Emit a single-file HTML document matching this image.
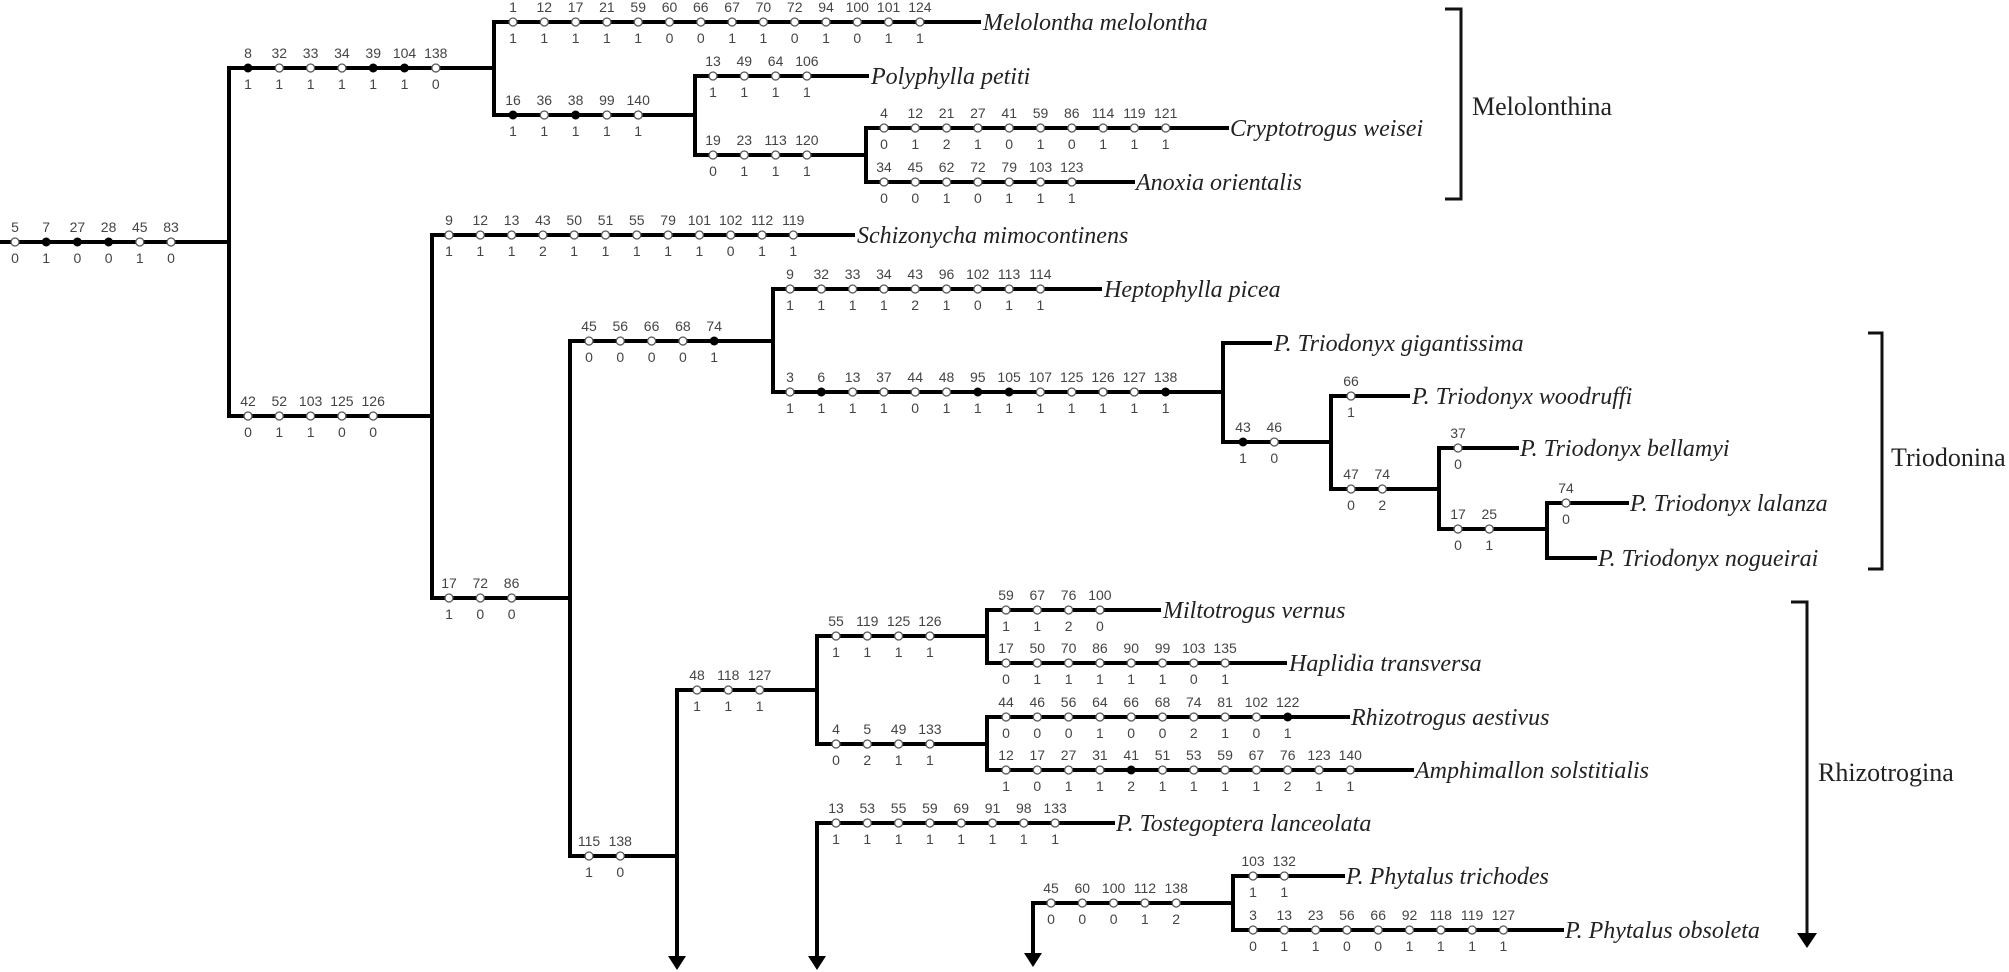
<!DOCTYPE html>
<html><head><meta charset="utf-8"><style>
html,body{margin:0;padding:0;background:#fff;}
svg{display:block;}
.n{font-family:"Liberation Sans",sans-serif;font-size:14px;fill:#444;text-anchor:middle;}
.sp{font-family:"Liberation Serif",serif;font-style:italic;font-size:24px;fill:#222;}
.cl{font-family:"Liberation Serif",serif;font-size:26px;fill:#222;}
.l{stroke:#000;stroke-width:4;fill:none;stroke-linecap:square;}
.b{stroke:#111;stroke-width:3;fill:none;}
.o{fill:#fff;stroke:#555;stroke-width:1.3;}
.f{fill:#000;stroke:#000;stroke-width:1;}
</style></head><body>
<svg width="2009" height="972" viewBox="0 0 2009 972" xmlns="http://www.w3.org/2000/svg">
<!-- lines -->
<path class="l" d="M2 242H229 M229 68V416 M229 68H494 M494 22V115 M494 22H979 M494 115H695 M695 76V155 M695 76H867 M695 155H866 M866 128V182 M866 128H1227 M866 182H1133
M229 416H432 M432 235V598 M432 235H853 M432 598H570 M570 341V856 M570 341H773 M773 289V392 M773 289H1100 M773 392H1223 M1223 343V442 M1223 343H1270 M1223 442H1331 M1331 396V489 M1331 396H1408 M1331 489H1439 M1439 448V529 M1439 448H1517 M1439 529H1547 M1547 503V558 M1547 503H1627 M1547 558H1595
M570 856H677 M677 690V958 M677 690H817 M817 636V744 M817 636H987 M987 610V663 M987 610H1159 M987 663H1285 M817 744H987 M987 717V770 M987 717H1348 M987 770H1412
M817 823V958 M817 823H1113 M1033 903V955 M1033 903H1233 M1233 876V930 M1233 876H1343 M1233 930H1562"/>
<polygon points="668,956 686,956 677,970" fill="#000"/>
<polygon points="808,956 826,956 817,970" fill="#000"/>
<polygon points="1024,953 1042,953 1033,967" fill="#000"/>
<!-- brackets -->
<path class="b" d="M1445 9H1461V199H1445 M1868 333H1882V569H1868 M1791 602H1807V936"/>
<polygon points="1797,933 1817,933 1807,948" fill="#000"/>
<text class="cl" x="1472" y="115">Melolonthina</text>
<text class="cl" x="1891" y="466">Triodonina</text>
<text class="cl" x="1818" y="781">Rhizotrogina</text>
<!-- species -->
<text class="sp" x="983" y="30">Melolontha melolontha</text>
<text class="sp" x="871" y="84">Polyphylla petiti</text>
<text class="sp" x="1230" y="136">Cryptotrogus weisei</text>
<text class="sp" x="1136" y="190">Anoxia orientalis</text>
<text class="sp" x="857" y="243">Schizonycha mimocontinens</text>
<text class="sp" x="1104" y="297">Heptophylla picea</text>
<text class="sp" x="1274" y="351">P. Triodonyx gigantissima</text>
<text class="sp" x="1412" y="404">P. Triodonyx woodruffi</text>
<text class="sp" x="1520" y="456">P. Triodonyx bellamyi</text>
<text class="sp" x="1630" y="511">P. Triodonyx lalanza</text>
<text class="sp" x="1598" y="566">P. Triodonyx nogueirai</text>
<text class="sp" x="1163" y="618">Miltotrogus vernus</text>
<text class="sp" x="1289" y="671">Haplidia transversa</text>
<text class="sp" x="1351" y="725">Rhizotrogus aestivus</text>
<text class="sp" x="1415" y="778">Amphimallon solstitialis</text>
<text class="sp" x="1116" y="831">P. Tostegoptera lanceolata</text>
<text class="sp" x="1346" y="884">P. Phytalus trichodes</text>
<text class="sp" x="1565" y="938">P. Phytalus obsoleta</text>

<!-- Root y=242 -->
<g>
<circle class="o" cx="15" cy="242" r="4"/><circle class="f" cx="46.2" cy="242" r="4"/><circle class="f" cx="77.4" cy="242" r="4"/><circle class="f" cx="108.6" cy="242" r="4"/><circle class="o" cx="139.8" cy="242" r="4"/><circle class="o" cx="171" cy="242" r="4"/>
<text class="n" x="15" y="232">5</text><text class="n" x="46.2" y="232">7</text><text class="n" x="77.4" y="232">27</text><text class="n" x="108.6" y="232">28</text><text class="n" x="139.8" y="232">45</text><text class="n" x="171" y="232">83</text>
<text class="n" x="15" y="263">0</text><text class="n" x="46.2" y="263">1</text><text class="n" x="77.4" y="263">0</text><text class="n" x="108.6" y="263">0</text><text class="n" x="139.8" y="263">1</text><text class="n" x="171" y="263">0</text>
</g>
<!-- A y=68 -->
<g>
<circle class="f" cx="248" cy="68" r="4"/><circle class="o" cx="279.3" cy="68" r="4"/><circle class="o" cx="310.6" cy="68" r="4"/><circle class="o" cx="341.9" cy="68" r="4"/><circle class="f" cx="373.2" cy="68" r="4"/><circle class="f" cx="404.5" cy="68" r="4"/><circle class="o" cx="435.8" cy="68" r="4"/>
<text class="n" x="248" y="58">8</text><text class="n" x="279.3" y="58">32</text><text class="n" x="310.6" y="58">33</text><text class="n" x="341.9" y="58">34</text><text class="n" x="373.2" y="58">39</text><text class="n" x="404.5" y="58">104</text><text class="n" x="435.8" y="58">138</text>
<text class="n" x="248" y="89">1</text><text class="n" x="279.3" y="89">1</text><text class="n" x="310.6" y="89">1</text><text class="n" x="341.9" y="89">1</text><text class="n" x="373.2" y="89">1</text><text class="n" x="404.5" y="89">1</text><text class="n" x="435.8" y="89">0</text>
</g>
<!-- Melolontha y=22 -->
<g>
<circle class="o" cx="513" cy="22" r="4"/><circle class="o" cx="544.3" cy="22" r="4"/><circle class="o" cx="575.6" cy="22" r="4"/><circle class="o" cx="606.9" cy="22" r="4"/><circle class="o" cx="638.2" cy="22" r="4"/><circle class="o" cx="669.5" cy="22" r="4"/><circle class="o" cx="700.8" cy="22" r="4"/><circle class="o" cx="732.1" cy="22" r="4"/><circle class="o" cx="763.4" cy="22" r="4"/><circle class="o" cx="794.7" cy="22" r="4"/><circle class="o" cx="826" cy="22" r="4"/><circle class="o" cx="857.3" cy="22" r="4"/><circle class="o" cx="888.6" cy="22" r="4"/><circle class="o" cx="919.9" cy="22" r="4"/>
<text class="n" x="513" y="12">1</text><text class="n" x="544.3" y="12">12</text><text class="n" x="575.6" y="12">17</text><text class="n" x="606.9" y="12">21</text><text class="n" x="638.2" y="12">59</text><text class="n" x="669.5" y="12">60</text><text class="n" x="700.8" y="12">66</text><text class="n" x="732.1" y="12">67</text><text class="n" x="763.4" y="12">70</text><text class="n" x="794.7" y="12">72</text><text class="n" x="826" y="12">94</text><text class="n" x="857.3" y="12">100</text><text class="n" x="888.6" y="12">101</text><text class="n" x="919.9" y="12">124</text>
<text class="n" x="513" y="43">1</text><text class="n" x="544.3" y="43">1</text><text class="n" x="575.6" y="43">1</text><text class="n" x="606.9" y="43">1</text><text class="n" x="638.2" y="43">1</text><text class="n" x="669.5" y="43">0</text><text class="n" x="700.8" y="43">0</text><text class="n" x="732.1" y="43">1</text><text class="n" x="763.4" y="43">1</text><text class="n" x="794.7" y="43">0</text><text class="n" x="826" y="43">1</text><text class="n" x="857.3" y="43">0</text><text class="n" x="888.6" y="43">1</text><text class="n" x="919.9" y="43">1</text>
</g>
<!-- B y=115 -->
<g>
<circle class="f" cx="513" cy="115" r="4"/><circle class="o" cx="544.3" cy="115" r="4"/><circle class="f" cx="575.6" cy="115" r="4"/><circle class="o" cx="606.9" cy="115" r="4"/><circle class="o" cx="638.2" cy="115" r="4"/>
<text class="n" x="513" y="105">16</text><text class="n" x="544.3" y="105">36</text><text class="n" x="575.6" y="105">38</text><text class="n" x="606.9" y="105">99</text><text class="n" x="638.2" y="105">140</text>
<text class="n" x="513" y="136">1</text><text class="n" x="544.3" y="136">1</text><text class="n" x="575.6" y="136">1</text><text class="n" x="606.9" y="136">1</text><text class="n" x="638.2" y="136">1</text>
</g>
<!-- Polyphylla y=76 -->
<g>
<circle class="o" cx="713" cy="76" r="4"/><circle class="o" cx="744.3" cy="76" r="4"/><circle class="o" cx="775.6" cy="76" r="4"/><circle class="o" cx="806.9" cy="76" r="4"/>
<text class="n" x="713" y="66">13</text><text class="n" x="744.3" y="66">49</text><text class="n" x="775.6" y="66">64</text><text class="n" x="806.9" y="66">106</text>
<text class="n" x="713" y="97">1</text><text class="n" x="744.3" y="97">1</text><text class="n" x="775.6" y="97">1</text><text class="n" x="806.9" y="97">1</text>
</g>
<!-- C y=155 -->
<g>
<circle class="o" cx="713" cy="155" r="4"/><circle class="o" cx="744.3" cy="155" r="4"/><circle class="o" cx="775.6" cy="155" r="4"/><circle class="o" cx="806.9" cy="155" r="4"/>
<text class="n" x="713" y="145">19</text><text class="n" x="744.3" y="145">23</text><text class="n" x="775.6" y="145">113</text><text class="n" x="806.9" y="145">120</text>
<text class="n" x="713" y="176">0</text><text class="n" x="744.3" y="176">1</text><text class="n" x="775.6" y="176">1</text><text class="n" x="806.9" y="176">1</text>
</g>
<!-- Cryptotrogus y=128 -->
<g>
<circle class="o" cx="884" cy="128" r="4"/><circle class="o" cx="915.3" cy="128" r="4"/><circle class="o" cx="946.6" cy="128" r="4"/><circle class="o" cx="977.9" cy="128" r="4"/><circle class="o" cx="1009.2" cy="128" r="4"/><circle class="o" cx="1040.5" cy="128" r="4"/><circle class="o" cx="1071.8" cy="128" r="4"/><circle class="o" cx="1103.1" cy="128" r="4"/><circle class="o" cx="1134.4" cy="128" r="4"/><circle class="o" cx="1165.7" cy="128" r="4"/>
<text class="n" x="884" y="118">4</text><text class="n" x="915.3" y="118">12</text><text class="n" x="946.6" y="118">21</text><text class="n" x="977.9" y="118">27</text><text class="n" x="1009.2" y="118">41</text><text class="n" x="1040.5" y="118">59</text><text class="n" x="1071.8" y="118">86</text><text class="n" x="1103.1" y="118">114</text><text class="n" x="1134.4" y="118">119</text><text class="n" x="1165.7" y="118">121</text>
<text class="n" x="884" y="149">0</text><text class="n" x="915.3" y="149">1</text><text class="n" x="946.6" y="149">2</text><text class="n" x="977.9" y="149">1</text><text class="n" x="1009.2" y="149">0</text><text class="n" x="1040.5" y="149">1</text><text class="n" x="1071.8" y="149">0</text><text class="n" x="1103.1" y="149">1</text><text class="n" x="1134.4" y="149">1</text><text class="n" x="1165.7" y="149">1</text>
</g>
<!-- Anoxia y=182 -->
<g>
<circle class="o" cx="884" cy="182" r="4"/><circle class="o" cx="915.3" cy="182" r="4"/><circle class="o" cx="946.6" cy="182" r="4"/><circle class="o" cx="977.9" cy="182" r="4"/><circle class="o" cx="1009.2" cy="182" r="4"/><circle class="o" cx="1040.5" cy="182" r="4"/><circle class="o" cx="1071.8" cy="182" r="4"/>
<text class="n" x="884" y="172">34</text><text class="n" x="915.3" y="172">45</text><text class="n" x="946.6" y="172">62</text><text class="n" x="977.9" y="172">72</text><text class="n" x="1009.2" y="172">79</text><text class="n" x="1040.5" y="172">103</text><text class="n" x="1071.8" y="172">123</text>
<text class="n" x="884" y="203">0</text><text class="n" x="915.3" y="203">0</text><text class="n" x="946.6" y="203">1</text><text class="n" x="977.9" y="203">0</text><text class="n" x="1009.2" y="203">1</text><text class="n" x="1040.5" y="203">1</text><text class="n" x="1071.8" y="203">1</text>
</g>
<!-- D y=416 -->
<g>
<circle class="o" cx="248" cy="416" r="4"/><circle class="o" cx="279.3" cy="416" r="4"/><circle class="o" cx="310.6" cy="416" r="4"/><circle class="o" cx="341.9" cy="416" r="4"/><circle class="o" cx="373.2" cy="416" r="4"/>
<text class="n" x="248" y="406">42</text><text class="n" x="279.3" y="406">52</text><text class="n" x="310.6" y="406">103</text><text class="n" x="341.9" y="406">125</text><text class="n" x="373.2" y="406">126</text>
<text class="n" x="248" y="437">0</text><text class="n" x="279.3" y="437">1</text><text class="n" x="310.6" y="437">1</text><text class="n" x="341.9" y="437">0</text><text class="n" x="373.2" y="437">0</text>
</g>
<!-- Schizonycha y=235 -->
<g>
<circle class="o" cx="449" cy="235" r="4"/><circle class="o" cx="480.3" cy="235" r="4"/><circle class="o" cx="511.6" cy="235" r="4"/><circle class="o" cx="542.9" cy="235" r="4"/><circle class="o" cx="574.2" cy="235" r="4"/><circle class="o" cx="605.5" cy="235" r="4"/><circle class="o" cx="636.8" cy="235" r="4"/><circle class="o" cx="668.1" cy="235" r="4"/><circle class="o" cx="699.4" cy="235" r="4"/><circle class="o" cx="730.7" cy="235" r="4"/><circle class="o" cx="762" cy="235" r="4"/><circle class="o" cx="793.3" cy="235" r="4"/>
<text class="n" x="449" y="225">9</text><text class="n" x="480.3" y="225">12</text><text class="n" x="511.6" y="225">13</text><text class="n" x="542.9" y="225">43</text><text class="n" x="574.2" y="225">50</text><text class="n" x="605.5" y="225">51</text><text class="n" x="636.8" y="225">55</text><text class="n" x="668.1" y="225">79</text><text class="n" x="699.4" y="225">101</text><text class="n" x="730.7" y="225">102</text><text class="n" x="762" y="225">112</text><text class="n" x="793.3" y="225">119</text>
<text class="n" x="449" y="256">1</text><text class="n" x="480.3" y="256">1</text><text class="n" x="511.6" y="256">1</text><text class="n" x="542.9" y="256">2</text><text class="n" x="574.2" y="256">1</text><text class="n" x="605.5" y="256">1</text><text class="n" x="636.8" y="256">1</text><text class="n" x="668.1" y="256">1</text><text class="n" x="699.4" y="256">1</text><text class="n" x="730.7" y="256">0</text><text class="n" x="762" y="256">1</text><text class="n" x="793.3" y="256">1</text>
</g>
<!-- E y=598 -->
<g>
<circle class="o" cx="449" cy="598" r="4"/><circle class="o" cx="480.3" cy="598" r="4"/><circle class="o" cx="511.6" cy="598" r="4"/>
<text class="n" x="449" y="588">17</text><text class="n" x="480.3" y="588">72</text><text class="n" x="511.6" y="588">86</text>
<text class="n" x="449" y="619">1</text><text class="n" x="480.3" y="619">0</text><text class="n" x="511.6" y="619">0</text>
</g>
<!-- F y=341 -->
<g>
<circle class="o" cx="589" cy="341" r="4"/><circle class="o" cx="620.3" cy="341" r="4"/><circle class="o" cx="651.6" cy="341" r="4"/><circle class="o" cx="682.9" cy="341" r="4"/><circle class="f" cx="714.2" cy="341" r="4"/>
<text class="n" x="589" y="331">45</text><text class="n" x="620.3" y="331">56</text><text class="n" x="651.6" y="331">66</text><text class="n" x="682.9" y="331">68</text><text class="n" x="714.2" y="331">74</text>
<text class="n" x="589" y="362">0</text><text class="n" x="620.3" y="362">0</text><text class="n" x="651.6" y="362">0</text><text class="n" x="682.9" y="362">0</text><text class="n" x="714.2" y="362">1</text>
</g>
<!-- Heptophylla y=289 -->
<g>
<circle class="o" cx="790" cy="289" r="4"/><circle class="o" cx="821.3" cy="289" r="4"/><circle class="o" cx="852.6" cy="289" r="4"/><circle class="o" cx="883.9" cy="289" r="4"/><circle class="o" cx="915.2" cy="289" r="4"/><circle class="o" cx="946.5" cy="289" r="4"/><circle class="o" cx="977.8" cy="289" r="4"/><circle class="o" cx="1009.1" cy="289" r="4"/><circle class="o" cx="1040.4" cy="289" r="4"/>
<text class="n" x="790" y="279">9</text><text class="n" x="821.3" y="279">32</text><text class="n" x="852.6" y="279">33</text><text class="n" x="883.9" y="279">34</text><text class="n" x="915.2" y="279">43</text><text class="n" x="946.5" y="279">96</text><text class="n" x="977.8" y="279">102</text><text class="n" x="1009.1" y="279">113</text><text class="n" x="1040.4" y="279">114</text>
<text class="n" x="790" y="310">1</text><text class="n" x="821.3" y="310">1</text><text class="n" x="852.6" y="310">1</text><text class="n" x="883.9" y="310">1</text><text class="n" x="915.2" y="310">2</text><text class="n" x="946.5" y="310">1</text><text class="n" x="977.8" y="310">0</text><text class="n" x="1009.1" y="310">1</text><text class="n" x="1040.4" y="310">1</text>
</g>
<!-- G y=392 -->
<g>
<circle class="o" cx="790" cy="392" r="4"/><circle class="f" cx="821.3" cy="392" r="4"/><circle class="o" cx="852.6" cy="392" r="4"/><circle class="o" cx="883.9" cy="392" r="4"/><circle class="o" cx="915.2" cy="392" r="4"/><circle class="o" cx="946.5" cy="392" r="4"/><circle class="f" cx="977.8" cy="392" r="4"/><circle class="f" cx="1009.1" cy="392" r="4"/><circle class="o" cx="1040.4" cy="392" r="4"/><circle class="o" cx="1071.7" cy="392" r="4"/><circle class="o" cx="1103" cy="392" r="4"/><circle class="o" cx="1134.3" cy="392" r="4"/><circle class="f" cx="1165.6" cy="392" r="4"/>
<text class="n" x="790" y="382">3</text><text class="n" x="821.3" y="382">6</text><text class="n" x="852.6" y="382">13</text><text class="n" x="883.9" y="382">37</text><text class="n" x="915.2" y="382">44</text><text class="n" x="946.5" y="382">48</text><text class="n" x="977.8" y="382">95</text><text class="n" x="1009.1" y="382">105</text><text class="n" x="1040.4" y="382">107</text><text class="n" x="1071.7" y="382">125</text><text class="n" x="1103" y="382">126</text><text class="n" x="1134.3" y="382">127</text><text class="n" x="1165.6" y="382">138</text>
<text class="n" x="790" y="413">1</text><text class="n" x="821.3" y="413">1</text><text class="n" x="852.6" y="413">1</text><text class="n" x="883.9" y="413">1</text><text class="n" x="915.2" y="413">0</text><text class="n" x="946.5" y="413">1</text><text class="n" x="977.8" y="413">1</text><text class="n" x="1009.1" y="413">1</text><text class="n" x="1040.4" y="413">1</text><text class="n" x="1071.7" y="413">1</text><text class="n" x="1103" y="413">1</text><text class="n" x="1134.3" y="413">1</text><text class="n" x="1165.6" y="413">1</text>
</g>
<!-- H y=442 -->
<g>
<circle class="f" cx="1243" cy="442" r="4"/><circle class="o" cx="1274.3" cy="442" r="4"/>
<text class="n" x="1243" y="432">43</text><text class="n" x="1274.3" y="432">46</text>
<text class="n" x="1243" y="463">1</text><text class="n" x="1274.3" y="463">0</text>
</g>
<!-- woodruffi y=396 -->
<g>
<circle class="o" cx="1351" cy="396" r="4"/>
<text class="n" x="1351" y="386">66</text><text class="n" x="1351" y="417">1</text>
</g>
<!-- I y=489 -->
<g>
<circle class="o" cx="1351" cy="489" r="4"/><circle class="o" cx="1382.3" cy="489" r="4"/>
<text class="n" x="1351" y="479">47</text><text class="n" x="1382.3" y="479">74</text>
<text class="n" x="1351" y="510">0</text><text class="n" x="1382.3" y="510">2</text>
</g>
<!-- bellamyi y=448 -->
<g>
<circle class="o" cx="1458" cy="448" r="4"/>
<text class="n" x="1458" y="438">37</text><text class="n" x="1458" y="469">0</text>
</g>
<!-- J y=529 -->
<g>
<circle class="o" cx="1458" cy="529" r="4"/><circle class="o" cx="1489.3" cy="529" r="4"/>
<text class="n" x="1458" y="519">17</text><text class="n" x="1489.3" y="519">25</text>
<text class="n" x="1458" y="550">0</text><text class="n" x="1489.3" y="550">1</text>
</g>
<!-- lalanza y=503 -->
<g>
<circle class="o" cx="1566" cy="503" r="4"/>
<text class="n" x="1566" y="493">74</text><text class="n" x="1566" y="524">0</text>
</g>
<!-- K y=856 -->
<g>
<circle class="o" cx="589" cy="856" r="4"/><circle class="o" cx="620.3" cy="856" r="4"/>
<text class="n" x="589" y="846">115</text><text class="n" x="620.3" y="846">138</text>
<text class="n" x="589" y="877">1</text><text class="n" x="620.3" y="877">0</text>
</g>
<!-- L y=690 -->
<g>
<circle class="o" cx="697" cy="690" r="4"/><circle class="o" cx="728.3" cy="690" r="4"/><circle class="o" cx="759.6" cy="690" r="4"/>
<text class="n" x="697" y="680">48</text><text class="n" x="728.3" y="680">118</text><text class="n" x="759.6" y="680">127</text>
<text class="n" x="697" y="711">1</text><text class="n" x="728.3" y="711">1</text><text class="n" x="759.6" y="711">1</text>
</g>
<!-- M y=636 -->
<g>
<circle class="o" cx="836" cy="636" r="4"/><circle class="o" cx="867.3" cy="636" r="4"/><circle class="o" cx="898.6" cy="636" r="4"/><circle class="o" cx="929.9" cy="636" r="4"/>
<text class="n" x="836" y="626">55</text><text class="n" x="867.3" y="626">119</text><text class="n" x="898.6" y="626">125</text><text class="n" x="929.9" y="626">126</text>
<text class="n" x="836" y="657">1</text><text class="n" x="867.3" y="657">1</text><text class="n" x="898.6" y="657">1</text><text class="n" x="929.9" y="657">1</text>
</g>
<!-- N y=744 -->
<g>
<circle class="o" cx="836" cy="744" r="4"/><circle class="o" cx="867.3" cy="744" r="4"/><circle class="o" cx="898.6" cy="744" r="4"/><circle class="o" cx="929.9" cy="744" r="4"/>
<text class="n" x="836" y="734">4</text><text class="n" x="867.3" y="734">5</text><text class="n" x="898.6" y="734">49</text><text class="n" x="929.9" y="734">133</text>
<text class="n" x="836" y="765">0</text><text class="n" x="867.3" y="765">2</text><text class="n" x="898.6" y="765">1</text><text class="n" x="929.9" y="765">1</text>
</g>
<!-- Miltotrogus y=610 -->
<g>
<circle class="o" cx="1006" cy="610" r="4"/><circle class="o" cx="1037.3" cy="610" r="4"/><circle class="o" cx="1068.6" cy="610" r="4"/><circle class="o" cx="1099.9" cy="610" r="4"/>
<text class="n" x="1006" y="600">59</text><text class="n" x="1037.3" y="600">67</text><text class="n" x="1068.6" y="600">76</text><text class="n" x="1099.9" y="600">100</text>
<text class="n" x="1006" y="631">1</text><text class="n" x="1037.3" y="631">1</text><text class="n" x="1068.6" y="631">2</text><text class="n" x="1099.9" y="631">0</text>
</g>
<!-- Haplidia y=663 -->
<g>
<circle class="o" cx="1006" cy="663" r="4"/><circle class="o" cx="1037.3" cy="663" r="4"/><circle class="o" cx="1068.6" cy="663" r="4"/><circle class="o" cx="1099.9" cy="663" r="4"/><circle class="o" cx="1131.2" cy="663" r="4"/><circle class="o" cx="1162.5" cy="663" r="4"/><circle class="o" cx="1193.8" cy="663" r="4"/><circle class="o" cx="1225.1" cy="663" r="4"/>
<text class="n" x="1006" y="653">17</text><text class="n" x="1037.3" y="653">50</text><text class="n" x="1068.6" y="653">70</text><text class="n" x="1099.9" y="653">86</text><text class="n" x="1131.2" y="653">90</text><text class="n" x="1162.5" y="653">99</text><text class="n" x="1193.8" y="653">103</text><text class="n" x="1225.1" y="653">135</text>
<text class="n" x="1006" y="684">0</text><text class="n" x="1037.3" y="684">1</text><text class="n" x="1068.6" y="684">1</text><text class="n" x="1099.9" y="684">1</text><text class="n" x="1131.2" y="684">1</text><text class="n" x="1162.5" y="684">1</text><text class="n" x="1193.8" y="684">0</text><text class="n" x="1225.1" y="684">1</text>
</g>
<!-- aestivus y=717 -->
<g>
<circle class="o" cx="1006" cy="717" r="4"/><circle class="o" cx="1037.3" cy="717" r="4"/><circle class="o" cx="1068.6" cy="717" r="4"/><circle class="o" cx="1099.9" cy="717" r="4"/><circle class="o" cx="1131.2" cy="717" r="4"/><circle class="o" cx="1162.5" cy="717" r="4"/><circle class="o" cx="1193.8" cy="717" r="4"/><circle class="o" cx="1225.1" cy="717" r="4"/><circle class="o" cx="1256.4" cy="717" r="4"/><circle class="f" cx="1287.7" cy="717" r="4"/>
<text class="n" x="1006" y="707">44</text><text class="n" x="1037.3" y="707">46</text><text class="n" x="1068.6" y="707">56</text><text class="n" x="1099.9" y="707">64</text><text class="n" x="1131.2" y="707">66</text><text class="n" x="1162.5" y="707">68</text><text class="n" x="1193.8" y="707">74</text><text class="n" x="1225.1" y="707">81</text><text class="n" x="1256.4" y="707">102</text><text class="n" x="1287.7" y="707">122</text>
<text class="n" x="1006" y="738">0</text><text class="n" x="1037.3" y="738">0</text><text class="n" x="1068.6" y="738">0</text><text class="n" x="1099.9" y="738">1</text><text class="n" x="1131.2" y="738">0</text><text class="n" x="1162.5" y="738">0</text><text class="n" x="1193.8" y="738">2</text><text class="n" x="1225.1" y="738">1</text><text class="n" x="1256.4" y="738">0</text><text class="n" x="1287.7" y="738">1</text>
</g>
<!-- solstitialis y=770 -->
<g>
<circle class="o" cx="1006" cy="770" r="4"/><circle class="o" cx="1037.3" cy="770" r="4"/><circle class="o" cx="1068.6" cy="770" r="4"/><circle class="o" cx="1099.9" cy="770" r="4"/><circle class="f" cx="1131.2" cy="770" r="4"/><circle class="o" cx="1162.5" cy="770" r="4"/><circle class="o" cx="1193.8" cy="770" r="4"/><circle class="o" cx="1225.1" cy="770" r="4"/><circle class="o" cx="1256.4" cy="770" r="4"/><circle class="o" cx="1287.7" cy="770" r="4"/><circle class="o" cx="1319" cy="770" r="4"/><circle class="o" cx="1350.3" cy="770" r="4"/>
<text class="n" x="1006" y="760">12</text><text class="n" x="1037.3" y="760">17</text><text class="n" x="1068.6" y="760">27</text><text class="n" x="1099.9" y="760">31</text><text class="n" x="1131.2" y="760">41</text><text class="n" x="1162.5" y="760">51</text><text class="n" x="1193.8" y="760">53</text><text class="n" x="1225.1" y="760">59</text><text class="n" x="1256.4" y="760">67</text><text class="n" x="1287.7" y="760">76</text><text class="n" x="1319" y="760">123</text><text class="n" x="1350.3" y="760">140</text>
<text class="n" x="1006" y="791">1</text><text class="n" x="1037.3" y="791">0</text><text class="n" x="1068.6" y="791">1</text><text class="n" x="1099.9" y="791">1</text><text class="n" x="1131.2" y="791">2</text><text class="n" x="1162.5" y="791">1</text><text class="n" x="1193.8" y="791">1</text><text class="n" x="1225.1" y="791">1</text><text class="n" x="1256.4" y="791">1</text><text class="n" x="1287.7" y="791">2</text><text class="n" x="1319" y="791">1</text><text class="n" x="1350.3" y="791">1</text>
</g>
<!-- Tostegoptera y=823 -->
<g>
<circle class="o" cx="836" cy="823" r="4"/><circle class="o" cx="867.3" cy="823" r="4"/><circle class="o" cx="898.6" cy="823" r="4"/><circle class="o" cx="929.9" cy="823" r="4"/><circle class="o" cx="961.2" cy="823" r="4"/><circle class="o" cx="992.5" cy="823" r="4"/><circle class="o" cx="1023.8" cy="823" r="4"/><circle class="o" cx="1055.1" cy="823" r="4"/>
<text class="n" x="836" y="813">13</text><text class="n" x="867.3" y="813">53</text><text class="n" x="898.6" y="813">55</text><text class="n" x="929.9" y="813">59</text><text class="n" x="961.2" y="813">69</text><text class="n" x="992.5" y="813">91</text><text class="n" x="1023.8" y="813">98</text><text class="n" x="1055.1" y="813">133</text>
<text class="n" x="836" y="844">1</text><text class="n" x="867.3" y="844">1</text><text class="n" x="898.6" y="844">1</text><text class="n" x="929.9" y="844">1</text><text class="n" x="961.2" y="844">1</text><text class="n" x="992.5" y="844">1</text><text class="n" x="1023.8" y="844">1</text><text class="n" x="1055.1" y="844">1</text>
</g>
<!-- Phytalus y=903 -->
<g>
<circle class="o" cx="1051" cy="903" r="4"/><circle class="o" cx="1082.3" cy="903" r="4"/><circle class="o" cx="1113.6" cy="903" r="4"/><circle class="o" cx="1144.9" cy="903" r="4"/><circle class="o" cx="1176.2" cy="903" r="4"/>
<text class="n" x="1051" y="893">45</text><text class="n" x="1082.3" y="893">60</text><text class="n" x="1113.6" y="893">100</text><text class="n" x="1144.9" y="893">112</text><text class="n" x="1176.2" y="893">138</text>
<text class="n" x="1051" y="924">0</text><text class="n" x="1082.3" y="924">0</text><text class="n" x="1113.6" y="924">0</text><text class="n" x="1144.9" y="924">1</text><text class="n" x="1176.2" y="924">2</text>
</g>
<!-- trichodes y=876 -->
<g>
<circle class="o" cx="1253" cy="876" r="4"/><circle class="o" cx="1284.3" cy="876" r="4"/>
<text class="n" x="1253" y="866">103</text><text class="n" x="1284.3" y="866">132</text>
<text class="n" x="1253" y="897">1</text><text class="n" x="1284.3" y="897">1</text>
</g>
<!-- obsoleta y=930 -->
<g>
<circle class="o" cx="1253" cy="930" r="4"/><circle class="o" cx="1284.3" cy="930" r="4"/><circle class="o" cx="1315.6" cy="930" r="4"/><circle class="o" cx="1346.9" cy="930" r="4"/><circle class="o" cx="1378.2" cy="930" r="4"/><circle class="o" cx="1409.5" cy="930" r="4"/><circle class="o" cx="1440.8" cy="930" r="4"/><circle class="o" cx="1472.1" cy="930" r="4"/><circle class="o" cx="1503.4" cy="930" r="4"/>
<text class="n" x="1253" y="920">3</text><text class="n" x="1284.3" y="920">13</text><text class="n" x="1315.6" y="920">23</text><text class="n" x="1346.9" y="920">56</text><text class="n" x="1378.2" y="920">66</text><text class="n" x="1409.5" y="920">92</text><text class="n" x="1440.8" y="920">118</text><text class="n" x="1472.1" y="920">119</text><text class="n" x="1503.4" y="920">127</text>
<text class="n" x="1253" y="951">0</text><text class="n" x="1284.3" y="951">1</text><text class="n" x="1315.6" y="951">1</text><text class="n" x="1346.9" y="951">0</text><text class="n" x="1378.2" y="951">0</text><text class="n" x="1409.5" y="951">1</text><text class="n" x="1440.8" y="951">1</text><text class="n" x="1472.1" y="951">1</text><text class="n" x="1503.4" y="951">1</text>
</g>
</svg>
</body></html>
